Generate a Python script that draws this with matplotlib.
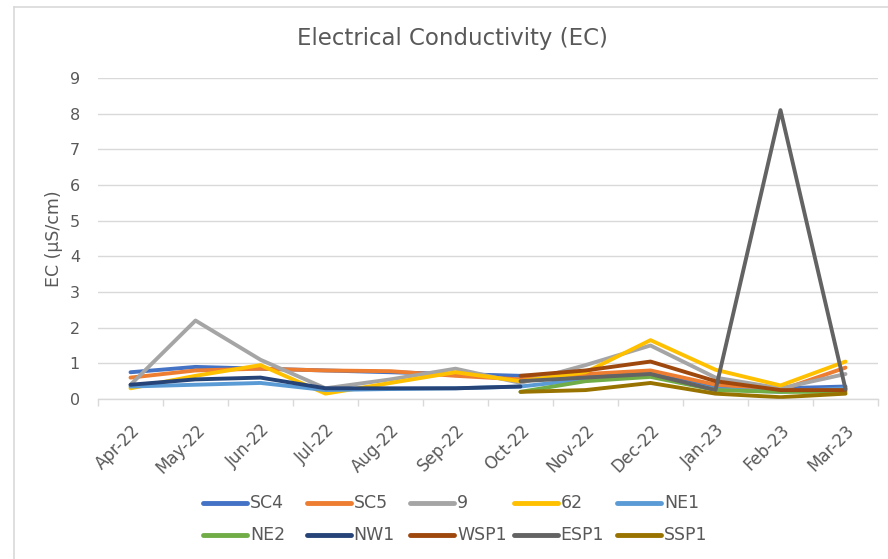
import numpy as np
import matplotlib
matplotlib.use("Agg")
from matplotlib import pyplot as plt
from matplotlib.lines import Line2D

nan = np.nan

months = ["Apr-22", "May-22", "Jun-22", "Jul-22", "Aug-22", "Sep-22",
          "Oct-22", "Nov-22", "Dec-22", "Jan-23", "Feb-23", "Mar-23"]

sc4 = [0.75, 0.90, 0.85, 0.80, 0.75, 0.70, 0.65, 0.65, 0.70, 0.35, 0.30, 0.35]
sc5 = [0.60, 0.80, 0.85, 0.80, 0.78, 0.65, 0.55, 0.70, 0.80, 0.40, 0.25, 0.88]
s9 = [0.40, 2.20, 1.10, 0.30, 0.55, 0.85, 0.45, 0.95, 1.50, 0.60, 0.30, 0.70]
s62 = [0.30, 0.65, 0.95, 0.15, 0.45, 0.75, 0.50, 0.75, 1.65, 0.82, 0.38, 1.05]
ne1 = [0.35, 0.40, 0.45, 0.25, 0.28, 0.30, 0.35, 0.55, 0.65, 0.28, 0.20, 0.30]
ne2 = [nan, nan, nan, nan, nan, nan, 0.20, 0.50, 0.62, 0.25, 0.20, 0.20]
nw1 = [0.40, 0.55, 0.60, 0.30, 0.30, 0.30, 0.35, nan, nan, nan, nan, nan]
wsp1 = [nan, nan, nan, nan, nan, nan, 0.65, 0.80, 1.05, 0.50, 0.25, 0.25]
esp1 = [nan, nan, nan, nan, nan, nan, 0.50, 0.60, 0.70, 0.25, 8.10, 0.28]
ssp1 = [nan, nan, nan, nan, nan, nan, 0.20, 0.25, 0.45, 0.15, 0.05, 0.15]

series = [("SC4", sc4, "#4472C4"), ("SC5", sc5, "#ED7D31"), ("9", s9, "#A5A5A5"),
          ("62", s62, "#FFC000"), ("NE1", ne1, "#5B9BD5"), ("NE2", ne2, "#70AD47"),
          ("NW1", nw1, "#264478"), ("WSP1", wsp1, "#9E480E"), ("ESP1", esp1, "#636363"),
          ("SSP1", ssp1, "#997300")]

text_col = "#595959"
grid_col = "#D9D9D9"
plt.rcParams["font.family"] = "DejaVu Sans"

W, H = 888, 559
fig = plt.figure(figsize=(W / 100, H / 100), dpi=100)
ax = fig.add_axes([98 / W, 1 - 399 / H, 780 / W, 321 / H])

x = np.arange(len(months))
for name, vals, col in series:
    ax.plot(x, vals, color=col, lw=2.8, solid_capstyle="round",
            solid_joinstyle="round", label=name)

ax.set_xlim(-0.5, len(months) - 0.5)
ax.set_ylim(0, 9)
ax.set_yticks(range(0, 10))
ax.set_xticks(x)
ax.set_xticklabels(months, rotation=45, ha="right", rotation_mode="anchor",
                   fontsize=12, color=text_col)
ax.set_xticks(np.arange(-0.5, len(months)), minor=True)
ax.tick_params(axis="x", which="major", length=0, pad=16)
ax.tick_params(axis="x", which="minor", length=5, color=grid_col, width=1)
ax.tick_params(axis="y", length=0, labelsize=11.5, labelcolor=text_col, pad=13)
ax.grid(axis="y", color=grid_col, lw=1)
ax.set_axisbelow(True)
for s in ["top", "right", "left"]:
    ax.spines[s].set_visible(False)
ax.spines["bottom"].set_color(grid_col)
ax.spines["bottom"].set_linewidth(1)

fig.text(54 / W, 1 - 239 / H, "EC (µS/cm)", rotation=90, ha="center", va="center",
         fontsize=12.5, color=text_col)
fig.text(452 / W, 1 - 38 / H, "Electrical Conductivity (EC)", ha="center",
         va="center", fontsize=16.5, color=text_col)

# legend laid out like Excel: 5 columns, 2 rows
for i, (name, vals, col) in enumerate(series):
    cx = 203 + (i % 5) * 103.5
    cy = 1 - (503 + (i // 5) * 32) / H
    fig.add_artist(Line2D([cx / W, (cx + 44) / W], [cy, cy], color=col, lw=3.5,
                          solid_capstyle="round", transform=fig.transFigure))
    fig.text((cx + 47) / W, cy, name, ha="left", va="center", fontsize=12.5,
             color=text_col)

# chart border
fig.add_artist(Line2D([14 / W, 14 / W], [0, 1 - 7 / H], color=grid_col, lw=1.2,
                      transform=fig.transFigure))
fig.add_artist(Line2D([14 / W, 1], [1 - 7 / H, 1 - 7 / H], color=grid_col, lw=1.2,
                      transform=fig.transFigure))

fig.savefig("out.png", dpi=100)
